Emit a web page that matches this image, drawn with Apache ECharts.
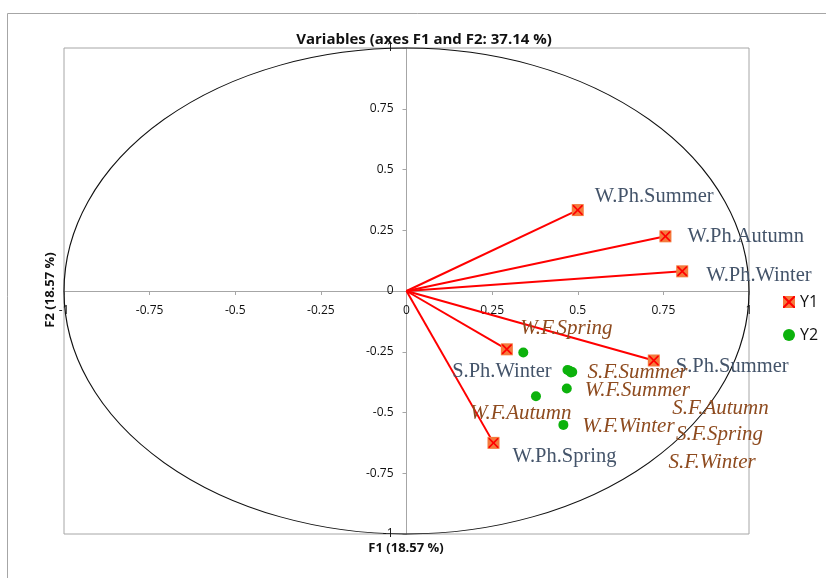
<!DOCTYPE html>
<html>
<head>
<meta charset="utf-8">
<script src="https://cdn.jsdelivr.net/npm/echarts@6/dist/echarts.min.js"></script>
<style>
html,body{margin:0;padding:0;background:#fff;}
#main{width:826px;height:578px;}
</style>
</head>
<body>
<div id="main"></div>
<script>
var chart = echarts.init(document.getElementById('main'));

// Y1 variables (F1, F2 loadings), drawn as vectors from origin
var y1Names = ['W.Ph.Summer', 'W.Ph.Autumn', 'W.Ph.Winter', 'S.Ph.Summer', 'S.Ph.Winter', 'W.Ph.Spring'];
var y1F1 = [0.500, 0.756, 0.805, 0.722, 0.293, 0.254];
var y1F2 = [0.333, 0.225, 0.081, -0.286, -0.240, -0.625];

// Y2 variables (supplementary points)
var y2Names = ['W.F.Spring', 'S.F.Summer', 'W.F.Summer', 'W.F.Autumn', 'W.F.Winter', 'S.F.Autumn', 'S.F.Spring', 'S.F.Winter'];
var y2F1 = [0.341, 0.470, 0.468, 0.378, 0.458, 0.484, 0.480, 0.476];
var y2F2 = [-0.253, -0.325, -0.401, -0.433, -0.551, -0.333, -0.335, -0.328];

// label placement (pixels from the marker), style only
var labelPos = {
    'W.Ph.Summer': [17, -13, 'left'],
    'W.Ph.Autumn': [22, 0, 'left'],
    'W.Ph.Winter': [24, 4, 'left'],
    'S.Ph.Summer': [22, 6, 'left'],
    'S.Ph.Winter': [-5, 22, 'center'],
    'W.Ph.Spring': [19, 14, 'left'],
    'W.F.Spring': [-3, -24, 'left'],
    'S.F.Summer': [20, 3, 'left'],
    'W.F.Summer': [18, 2, 'left'],
    'W.F.Autumn': [-66, 17, 'left'],
    'W.F.Winter': [19, 2, 'left'],
    'S.F.Autumn': [100, 37, 'left'],
    'S.F.Spring': [105, 62, 'left'],
    'S.F.Winter': [99, 92, 'left']
};

var xPath = 'path://M0,0 L1.2,0 L5,3.8 L8.8,0 L10,0 L10,1.2 L6.2,5 L10,8.8 L10,10 L8.8,10 L5,6.2 L1.2,10 L0,10 L0,8.8 L3.8,5 L0,1.2 Z';

function pointData(names, xs, ys, color, italic, size) {
    var out = [];
    for (var i = 0; i < names.length; i++) {
        var p = labelPos[names[i]];
        out.push({
            name: names[i],
            value: [xs[i], ys[i]],
            label: {
                show: true,
                position: 'inside',
                offset: [p[0], p[1]],
                align: p[2],
                verticalAlign: 'middle',
                formatter: names[i],
                color: color,
                fontFamily: 'Liberation Serif',
                fontStyle: italic ? 'italic' : 'normal',
                fontSize: size
            }
        });
    }
    return out;
}

var vectors = [];
for (var i = 0; i < y1Names.length; i++) {
    vectors.push({coords: [[0, 0], [y1F1[i], y1F2[i]]]});
}

var y1Plain = [];
for (var i = 0; i < y1Names.length; i++) y1Plain.push([y1F1[i], y1F2[i]]);

var axisText = {fontFamily: 'Open Sans', fontSize: 12, color: '#111'};

var option = {
    animation: false,
    backgroundColor: '#fff',
    grid: {left: 64, top: 48, width: 685, height: 486, show: true, borderColor: '#a6a6a6', borderWidth: 1},
    legend: [{
        orient: 'vertical', left: 778, top: 289, itemWidth: 12, itemHeight: 12, itemGap: 17,
        selectedMode: false,
        textStyle: {fontFamily: 'Open Sans', fontSize: 16, color: '#111'},
        data: [{name: 'Y1', icon: 'rect'}, {name: 'Y2', icon: 'circle'}]
    }, {
        orient: 'vertical', left: 778, top: 289, itemWidth: 12, itemHeight: 12, itemGap: 17,
        selectedMode: false,
        formatter: function () { return 'Y1'; },
        textStyle: {fontFamily: 'Open Sans', fontSize: 16, color: 'rgba(0,0,0,0)'},
        data: [{name: 'Y1x', icon: xPath}]
    }],
    xAxis: {
        type: 'value', min: -1, max: 1, interval: 0.25,
        axisLine: {onZero: false, lineStyle: {color: '#a6a6a6', width: 1}},
        axisTick: {show: true, length: 4, lineStyle: {color: '#a6a6a6'}},
        axisLabel: Object.assign({margin: 14, showMaxLabel: true, showMinLabel: true}, axisText),
        splitLine: {show: false}
    },
    yAxis: {
        type: 'value', min: -1, max: 1, interval: 0.25,
        axisLine: {onZero: false, lineStyle: {color: '#a6a6a6', width: 1}},
        axisTick: {show: true, length: 4, lineStyle: {color: '#a6a6a6'}},
        axisLabel: Object.assign({margin: 13}, axisText),
        splitLine: {show: false}
    },
    series: [{
        type: 'lines',
        coordinateSystem: 'cartesian2d',
        silent: true,
        z: 2,
        lineStyle: {color: '#ff0000', width: 2, opacity: 1},
        data: vectors
    }, {
        name: 'Y1',
        type: 'scatter',
        symbol: 'rect',
        symbolSize: 12,
        z: 3,
        itemStyle: {color: '#f47a3c', opacity: 1},
        data: pointData(y1Names, y1F1, y1F2, '#44546a', false, 20.5)
    }, {
        name: 'Y1x',
        type: 'scatter',
        symbol: xPath,
        symbolSize: 10,
        z: 4,
        silent: true,
        itemStyle: {color: '#ff0000', opacity: 1},
        data: y1Plain
    }, {
        name: 'Y2',
        type: 'scatter',
        symbol: 'circle',
        symbolSize: 10,
        z: 3,
        itemStyle: {color: '#0cb20c', opacity: 1},
        data: pointData(y2Names, y2F1, y2F2, '#8e4b1f', true, 21)
    }]
};

chart.setOption(option);

// move both axes onto the origin, and draw the correlation circle, using the axes' own scale
var c = chart.convertToPixel({gridIndex: 0}, [0, 0]);
var lo = chart.convertToPixel({gridIndex: 0}, [-1, -1]);
var hi = chart.convertToPixel({gridIndex: 0}, [1, 1]);
var rx = hi[0] - c[0];
var ry = c[1] - hi[1];

chart.setOption({
    xAxis: {offset: -(lo[1] - c[1])},
    yAxis: {offset: -(c[0] - lo[0])},
    graphic: [{
        type: 'rect', silent: true, z: 0,
        shape: {x: 7.5, y: 13.5, width: 840, height: 600},
        style: {fill: 'none', stroke: '#a6a6a6', lineWidth: 1}
    }, {
        type: 'circle', silent: true, z: 1,
        x: c[0], y: c[1], scaleY: ry / rx,
        shape: {cx: 0, cy: 0, r: rx},
        style: {fill: 'none', stroke: '#111', lineWidth: 1.2, strokeNoScale: true}
    }, {
        type: 'text', silent: true,
        x: 424, y: 40,
        style: {text: 'Variables (axes F1 and F2: 37.14 %)', fill: '#111', font: 'bold 15px "Open Sans"', align: 'center', verticalAlign: 'middle'}
    }, {
        type: 'text', silent: true,
        x: 406, y: 548,
        style: {text: 'F1 (18.57 %)', fill: '#111', font: 'bold 13px "Open Sans"', align: 'center', verticalAlign: 'middle'}
    }, {
        type: 'text', silent: true,
        x: 50, y: 290, rotation: Math.PI / 2,
        style: {text: 'F2 (18.57 %)', fill: '#111', font: 'bold 13px "Open Sans"', align: 'center', verticalAlign: 'middle'}
    }]
});
</script>
</body>
</html>
